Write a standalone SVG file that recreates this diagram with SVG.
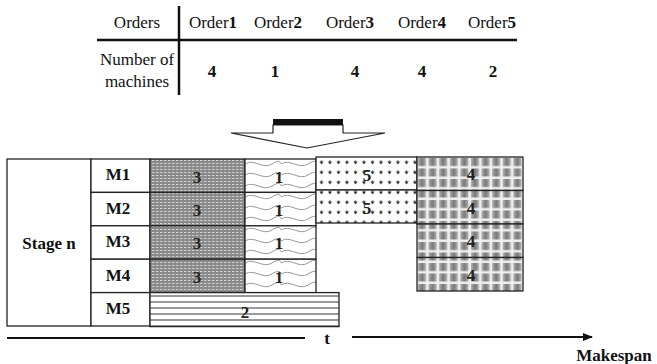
<svg xmlns="http://www.w3.org/2000/svg" width="657" height="364" viewBox="0 0 657 364" font-family="'Liberation Serif', 'Times New Roman', serif">
<defs>
<style>
text{font-family:'Liberation Serif','Times New Roman',serif;fill:#111}
.h{font-size:17px}
.b{font-size:17px;font-weight:bold}
.cell{stroke:#222;stroke-width:1.3}
.num{font-size:17px;font-weight:bold;text-anchor:middle;fill:#222}
</style>
<pattern id="p3" width="4" height="3" patternUnits="userSpaceOnUse">
<rect width="4" height="3" fill="#8a8a8a"/>
<rect x="0" y="1" width="2.5" height="1" fill="#cfcfcf"/>
</pattern>
<pattern id="p1" width="36" height="11" patternUnits="userSpaceOnUse" x="245" y="160">
<rect width="36" height="11" fill="#fff"/>
<path d="M0 4 C9 -2 18 10 27 4 S36 4 36 4" fill="none" stroke="#999" stroke-width="1"/>
</pattern>
<pattern id="p5" width="8.5" height="10" patternUnits="userSpaceOnUse" x="317" y="158">
<rect width="8.5" height="10" fill="#fff"/>
<path d="M2.5 3.5 L6.5 3.5 L4.5 6.5 Z" fill="#222"/>
<line x1="4.5" y1="2" x2="4.5" y2="4" stroke="#444" stroke-width="0.8"/>
</pattern>
<linearGradient id="sq" x1="0" y1="0" x2="1" y2="0">
<stop offset="0" stop-color="#b0b0b0"/><stop offset="0.5" stop-color="#777"/><stop offset="1" stop-color="#b0b0b0"/>
</linearGradient>
<pattern id="p4" width="10.6" height="10.5" patternUnits="userSpaceOnUse" x="417" y="157">
<rect width="10.6" height="10.5" fill="#eee"/>
<rect x="1" y="1" width="8" height="8" fill="url(#sq)"/>
</pattern>
<pattern id="p2" width="10" height="6" patternUnits="userSpaceOnUse" x="150" y="293">
<rect width="10" height="6" fill="#fff"/>
<rect y="2" width="10" height="2" fill="#9a9a9a"/>
</pattern>
<marker id="ah" markerWidth="10" markerHeight="8" refX="9" refY="4" orient="auto" markerUnits="userSpaceOnUse">
<path d="M0 0 L10 4 L0 8 Z" fill="#111"/>
</marker>
</defs>
<rect width="657" height="364" fill="#fff"/>

<g id="table">
<line x1="97" y1="40" x2="517" y2="40" stroke="#111" stroke-width="2.5"/>
<line x1="179" y1="6" x2="179" y2="95" stroke="#111" stroke-width="2.5"/>
<text class="h" x="137" y="28" text-anchor="middle">Orders</text>
<text class="h" x="213" y="28" text-anchor="middle">Order<tspan font-weight="bold">1</tspan></text>
<text class="h" x="278" y="28" text-anchor="middle">Order<tspan font-weight="bold">2</tspan></text>
<text class="h" x="350" y="28" text-anchor="middle">Order<tspan font-weight="bold">3</tspan></text>
<text class="h" x="422" y="28" text-anchor="middle">Order<tspan font-weight="bold">4</tspan></text>
<text class="h" x="492" y="28" text-anchor="middle">Order<tspan font-weight="bold">5</tspan></text>
<text class="h" x="137" y="65" text-anchor="middle" font-size="18">Number of</text>
<text class="h" x="137" y="87" text-anchor="middle" font-size="18">machines</text>
<text class="b" x="212" y="77" text-anchor="middle">4</text>
<text class="b" x="275" y="77" text-anchor="middle">1</text>
<text class="b" x="355" y="77" text-anchor="middle">4</text>
<text class="b" x="422" y="77" text-anchor="middle">4</text>
<text class="b" x="493" y="77" text-anchor="middle">2</text>
</g>

<g id="bigarrow">
<path d="M273 125 L273 133 L231 133 L307 148 L385 133 L343 133 L343 125 Z" fill="#fff" stroke="#222" stroke-width="1.2"/>
<rect x="273" y="119" width="70" height="6" fill="#111"/>
</g>

<g id="stage">
<rect class="cell" x="7" y="159" width="84" height="167" fill="#fff"/>
<text class="b" x="49" y="249" text-anchor="middle">Stage n</text>
</g>
<g id="machines">
<rect class="cell" x="91" y="159" width="59" height="33.4" fill="#fff"/>
<rect class="cell" x="91" y="192.4" width="59" height="33.4" fill="#fff"/>
<rect class="cell" x="91" y="225.8" width="59" height="33.4" fill="#fff"/>
<rect class="cell" x="91" y="259.2" width="59" height="33.4" fill="#fff"/>
<rect class="cell" x="91" y="292.6" width="59" height="33.4" fill="#fff"/>
<text class="b" x="118" y="180" text-anchor="middle">M1</text>
<text class="b" x="118" y="214" text-anchor="middle">M2</text>
<text class="b" x="118" y="247" text-anchor="middle">M3</text>
<text class="b" x="118" y="281" text-anchor="middle">M4</text>
<text class="b" x="118" y="314" text-anchor="middle">M5</text>
</g>
<g id="order3">
<rect class="cell" x="150" y="159" width="95" height="33.4" fill="url(#p3)"/>
<rect class="cell" x="150" y="192.4" width="95" height="33.4" fill="url(#p3)"/>
<rect class="cell" x="150" y="225.8" width="95" height="33.4" fill="url(#p3)"/>
<rect class="cell" x="150" y="259.2" width="95" height="33.4" fill="url(#p3)"/>
<text class="num" x="197" y="183">3</text>
<text class="num" x="197" y="216">3</text>
<text class="num" x="197" y="249">3</text>
<text class="num" x="197" y="283">3</text>
</g>
<g id="order1">
<rect class="cell" x="245" y="159" width="71" height="33.4" fill="url(#p1)"/>
<rect class="cell" x="245" y="192.4" width="71" height="33.4" fill="url(#p1)"/>
<rect class="cell" x="245" y="225.8" width="71" height="33.4" fill="url(#p1)"/>
<rect class="cell" x="245" y="259.2" width="71" height="33.4" fill="url(#p1)"/>
<text class="num" x="279" y="183">1</text>
<text class="num" x="279" y="216">1</text>
<text class="num" x="279" y="249">1</text>
<text class="num" x="279" y="283">1</text>
</g>
<g id="order5">
<rect class="cell" x="316" y="157" width="101" height="33" fill="url(#p5)"/>
<rect class="cell" x="316" y="190" width="101" height="33" fill="url(#p5)"/>
<text class="num" x="367" y="181">5</text>
<text class="num" x="367" y="214">5</text>
</g>
<g id="order4">
<rect class="cell" x="417" y="157" width="106" height="33.5" fill="url(#p4)"/>
<rect class="cell" x="417" y="190.5" width="106" height="33.5" fill="url(#p4)"/>
<rect class="cell" x="417" y="224" width="106" height="33.5" fill="url(#p4)"/>
<rect class="cell" x="417" y="257.5" width="106" height="33.5" fill="url(#p4)"/>
<text class="num" x="471" y="180">4</text>
<text class="num" x="471" y="214">4</text>
<text class="num" x="471" y="247">4</text>
<text class="num" x="471" y="281">4</text>
</g>
<g id="order2">
<rect class="cell" x="150" y="292.6" width="189" height="34" fill="url(#p2)"/>
<text class="num" x="245" y="318">2</text>
</g>

<g id="connectors">
<line x1="7" y1="338" x2="305" y2="338" stroke="#111" stroke-width="2"/>
<line x1="352" y1="337" x2="592" y2="337" stroke="#111" stroke-width="2" marker-end="url(#ah)"/>
</g>
<text class="b" x="327" y="344" text-anchor="middle">t</text>
<text class="b" x="614" y="361" text-anchor="middle" font-size="18">Makespan</text>
</svg>
